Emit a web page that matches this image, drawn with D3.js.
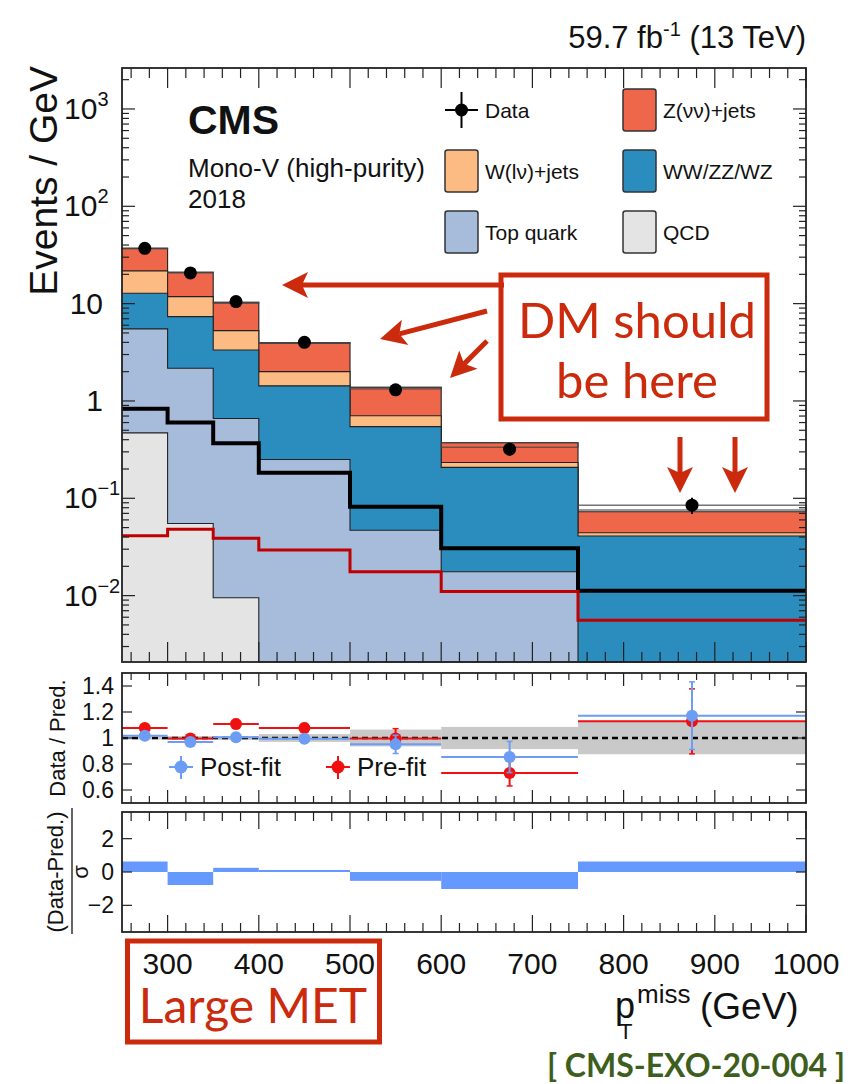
<!DOCTYPE html>
<html>
<head>
<meta charset="utf-8">
<script src="https://d3js.org/d3.v7.min.js"></script>
<style>
  body { margin: 0; background: #fff; }
  svg { display: block; }
  text { font-family: "Liberation Sans", Arial, Helvetica, sans-serif; fill: #111; }
  .gill { font-family: Lato, "Open Sans", sans-serif; }
</style>
</head>
<body>
<svg width=861 height=1084></svg>
<script>

// ---- data ----
var edges = [250, 300, 350, 400, 500, 600, 750, 1000];

// per-process yields (Events / GeV), stacked bottom -> top
var qcd   = [0.47, 0.055, 0.0095, 0, 0, 0, 0];
var topq  = [5.03, 2.115, 0.65, 0.25, 0.047, 0.0176, 0];
var vv    = [7.3, 5.18, 2.68, 1.18, 0.498, 0.19, 0.041];
var wjets = [8.9, 4.45, 1.94, 0.57, 0.161, 0.026, 0.0033];
var zjets = [15.4, 9.2, 5.02, 1.97, 0.674, 0.139, 0.0284];

var dataY   = [37, 20.7, 10.5, 4.0, 1.3, 0.32, 0.085];
var dataErr = [0.9, 0.65, 0.46, 0.2, 0.11, 0.046, 0.016];

// total uncertainty band outline
var bandHi = [37.1, 21.0, 10.3, 3.97, 1.38, 0.373, 0.085];
var bandLo = [36.6, 20.7, 10.1, 3.90, 1.33, 0.335, 0.0758];

// signal lines
var sigBlack = [0.83, 0.60, 0.367, 0.183, 0.082, 0.0306, 0.0112];
var sigRed   = [0.0413, 0.048, 0.0388, 0.0294, 0.0176, 0.011, 0.0056];

// ratio panel
var ratioPost    = [1.018, 0.969, 1.005, 0.995, 0.951, 0.854, 1.172];
var ratioPostErr = [0.025, 0.025, 0.03, 0.03, 0.07, 0.12, 0.26];
var ratioPre     = [1.077, 0.997, 1.108, 1.077, 0.997, 0.731, 1.128];
var ratioPreErr  = [0.027, 0.025, 0.035, 0.035, 0.075, 0.1, 0.25];
var ratioBand    = [0.012, 0.015, 0.015, 0.03, 0.065, 0.085, 0.125];

// pull panel
var pulls = [0.63, -0.78, 0.25, 0.12, -0.53, -1.02, 0.63];

var xTicks = [300, 400, 500, 600, 700, 800, 900, 1000];
var yMainTicks = [
  {v: 1000, base: '10', exp: '3'}, {v: 100, base: '10', exp: '2'},
  {v: 10, base: '10', exp: ''}, {v: 1, base: '1', exp: ''},
  {v: 0.1, base: '10', exp: '\u22121'}, {v: 0.01, base: '10', exp: '\u22122'}];
var yRatioTicks = [0.6, 0.8, 1, 1.2, 1.4];
var yPullTicks = [-2, 0, 2];

var processes = [
  {key: 'qcd', label: 'QCD', color: '#e4e4e4'},
  {key: 'topq', label: 'Top quark', color: '#a7bcdb'},
  {key: 'vv', label: 'WW/ZZ/WZ', color: '#2b8cbe'},
  {key: 'wjets', label: 'W(l\u03bd)+jets', color: '#fdbb84'},
  {key: 'zjets', label: 'Z(\u03bd\u03bd)+jets', color: '#ef674b'}];
var values = {qcd: qcd, topq: topq, vv: vv, wjets: wjets, zjets: zjets};

var svg = d3.select('svg');

var L = 122, R = 806;
var mainTop = 68, mainBot = 662;
var ratTop = 673, ratBot = 803;
var pullTop = 812, pullBot = 932;

var x = d3.scaleLinear().domain([250, 1000]).range([L, R]);
var y = d3.scaleLog().domain([0.00208, 2636]).range([mainBot, mainTop]);
var yr = d3.scaleLinear().domain([0.5, 1.5]).range([ratBot, ratTop]);
var yp = d3.scaleLinear().domain([-3.6, 3.6]).range([pullBot, pullTop]);
function yv(v) { return y(Math.max(v, 0.00208)); }

var bins = d3.range(edges.length - 1).map(function(i) {
  var row = {i: i, lo: edges[i], hi: edges[i + 1], c: (edges[i] + edges[i + 1]) / 2};
  processes.forEach(function(p) { row[p.key] = values[p.key][i]; });
  return row;
});

function stepPts(arr) {
  var pts = arr.map(function(v, i) { return [edges[i], v]; });
  pts.push([edges[edges.length - 1], arr[arr.length - 1]]);
  return pts;
}

// ---- main panel ----
var stack = d3.stack().keys(processes.map(function(p) { return p.key; }))(bins);

var area = d3.area().curve(d3.curveStepAfter)
  .x(function(d) { return x(d[0]); })
  .y0(mainBot)
  .y1(function(d) { return yv(d[1]); });
var line = d3.line().curve(d3.curveStepAfter)
  .x(function(d) { return x(d[0]); })
  .y(function(d) { return yv(d[1]); });

var gMain = svg.append('g');
// draw cumulative histograms from the total down, ROOT style
stack.slice().reverse().forEach(function(s) {
  var p = processes[s.index];
  var cum = s.map(function(d) { return d[1]; });
  gMain.append('path').attr('d', area(stepPts(cum))).attr('fill', p.color);
  gMain.append('path').attr('d', line(stepPts(cum)))
    .attr('fill', 'none').attr('stroke', '#222').attr('stroke-width', 1.1);
});

gMain.selectAll('rect.band').data(bins).enter().append('rect')
  .attr('x', function(d) { return x(d.lo); })
  .attr('width', function(d) { return x(d.hi) - x(d.lo); })
  .attr('y', function(d) { return yv(bandHi[d.i]); })
  .attr('height', function(d) { return yv(bandLo[d.i]) - yv(bandHi[d.i]); })
  .attr('fill', 'none').attr('stroke', '#444').attr('stroke-width', 1.1);

gMain.append('path').attr('d', line(stepPts(sigBlack)))
  .attr('fill', 'none').attr('stroke', '#000').attr('stroke-width', 4);
gMain.append('path').attr('d', line(stepPts(sigRed)))
  .attr('fill', 'none').attr('stroke', '#c00000').attr('stroke-width', 3);

gMain.selectAll('line.derr').data(bins).enter().append('line')
  .attr('x1', function(d) { return x(d.c); }).attr('x2', function(d) { return x(d.c); })
  .attr('y1', function(d) { return yv(dataY[d.i] + dataErr[d.i]); })
  .attr('y2', function(d) { return yv(dataY[d.i] - dataErr[d.i]); })
  .attr('stroke', '#000').attr('stroke-width', 2);
gMain.selectAll('circle.data').data(bins).enter().append('circle')
  .attr('cx', function(d) { return x(d.c); })
  .attr('cy', function(d) { return yv(dataY[d.i]); })
  .attr('r', 6.5).attr('fill', '#000');

// ---- ratio panel ----
var gRat = svg.append('g');
gRat.selectAll('rect.rband').data(bins).enter().append('rect')
  .attr('x', function(d) { return x(d.lo); })
  .attr('width', function(d) { return x(d.hi) - x(d.lo); })
  .attr('y', function(d) { return yr(1 + ratioBand[d.i]); })
  .attr('height', function(d) { return yr(1 - ratioBand[d.i]) - yr(1 + ratioBand[d.i]); })
  .attr('fill', '#c9c9c9');
gRat.append('line').attr('x1', L).attr('x2', R).attr('y1', yr(1)).attr('y2', yr(1))
  .attr('stroke', '#000').attr('stroke-width', 2.5).attr('stroke-dasharray', '6,4');

function ratioSeries(vals, errs, color) {
  var g = gRat.append('g');
  g.selectAll('line.h').data(bins).enter().append('line')
    .attr('x1', function(d) { return x(d.lo); }).attr('x2', function(d) { return x(d.hi); })
    .attr('y1', function(d) { return yr(vals[d.i]); }).attr('y2', function(d) { return yr(vals[d.i]); })
    .attr('stroke', color).attr('stroke-width', 2);
  g.selectAll('line.v').data(bins).enter().append('line')
    .attr('x1', function(d) { return x(d.c); }).attr('x2', function(d) { return x(d.c); })
    .attr('y1', function(d) { return yr(vals[d.i] + errs[d.i]); })
    .attr('y2', function(d) { return yr(vals[d.i] - errs[d.i]); })
    .attr('stroke', color).attr('stroke-width', 2);
  [1, -1].forEach(function(sgn) {
    g.selectAll('line.cap' + sgn).data(bins).enter().append('line')
      .attr('x1', function(d) { return x(d.c) - 3; }).attr('x2', function(d) { return x(d.c) + 3; })
      .attr('y1', function(d) { return yr(vals[d.i] + sgn * errs[d.i]); })
      .attr('y2', function(d) { return yr(vals[d.i] + sgn * errs[d.i]); })
      .attr('stroke', color).attr('stroke-width', 1.5);
  });
  g.selectAll('circle').data(bins).enter().append('circle')
    .attr('cx', function(d) { return x(d.c); })
    .attr('cy', function(d) { return yr(vals[d.i]); })
    .attr('r', 6).attr('fill', color);
}
ratioSeries(ratioPre, ratioPreErr, '#f01010');
ratioSeries(ratioPost, ratioPostErr, '#6d9cf4');

// ratio legend
[{x: 181, label: 'Post-fit', color: '#6d9cf4'}, {x: 338, label: 'Pre-fit', color: '#f01010'}].forEach(function(l) {
  gRat.append('line').attr('x1', l.x).attr('x2', l.x).attr('y1', 756).attr('y2', 779)
    .attr('stroke', l.color).attr('stroke-width', 2);
  gRat.append('line').attr('x1', l.x - 12).attr('x2', l.x + 12).attr('y1', 767).attr('y2', 767)
    .attr('stroke', l.color).attr('stroke-width', 2);
  gRat.append('circle').attr('cx', l.x).attr('cy', 767).attr('r', 6.5).attr('fill', l.color);
  gRat.append('text').attr('x', l.x + 19).attr('y', 776).attr('font-size', 26).text(l.label);
});

// ---- pull panel ----
var gPull = svg.append('g');
gPull.selectAll('rect').data(bins).enter().append('rect')
  .attr('x', function(d) { return x(d.lo); })
  .attr('width', function(d) { return x(d.hi) - x(d.lo); })
  .attr('y', function(d) { return yp(Math.max(0, pulls[d.i])); })
  .attr('height', function(d) { return Math.abs(yp(pulls[d.i]) - yp(0)); })
  .attr('fill', '#6699ff');

// ---- frames and ticks ----
function frame(t, b, major, minor) {
  var g = svg.append('g').attr('stroke', '#222');
  var minors = d3.range(260, 1000, 20).filter(function(v) { return v % 100 !== 0; });
  xTicks.concat(minors).forEach(function(v) {
    var len = (v % 100 === 0) ? major : minor;
    g.append('line').attr('x1', x(v)).attr('x2', x(v)).attr('y1', b).attr('y2', b - len).attr('stroke-width', 1.2);
    g.append('line').attr('x1', x(v)).attr('x2', x(v)).attr('y1', t).attr('y2', t + len).attr('stroke-width', 1.2);
  });
  return g;
}
function yTick(g, py, len) {
  g.append('line').attr('x1', L).attr('x2', L + len).attr('y1', py).attr('y2', py).attr('stroke-width', 1.2);
  g.append('line').attr('x1', R).attr('x2', R - len).attr('y1', py).attr('y2', py).attr('stroke-width', 1.2);
}

var fMain = frame(mainTop, mainBot, 20, 10);
d3.range(-3, 4).forEach(function(d) {
  d3.range(1, 10).forEach(function(m) {
    var v = m * Math.pow(10, d);
    if (v < y.domain()[0] || v > y.domain()[1]) return;
    yTick(fMain, y(v), m === 1 ? 13 : 7);
  });
});
var fRat = frame(ratTop, ratBot, 13, 7);
yRatioTicks.forEach(function(v) { yTick(fRat, yr(v), 10); });
var fPull = frame(pullTop, pullBot, 17, 9);
yPullTicks.forEach(function(v) { yTick(fPull, yp(v), 10); });

[[mainTop, mainBot], [ratTop, ratBot], [pullTop, pullBot]].forEach(function(p) {
  svg.append('rect').attr('x', L).attr('y', p[0]).attr('width', R - L).attr('height', p[1] - p[0])
    .attr('fill', 'none').attr('stroke', '#222').attr('stroke-width', 1.8);
});

// ---- axis labels ----
svg.selectAll('text.xl').data(xTicks).enter().append('text')
  .attr('x', function(d) { return x(d); }).attr('y', 974)
  .attr('text-anchor', 'middle').attr('font-size', 30).text(function(d) { return d; });

yMainTicks.forEach(function(t) {
  var tx = svg.append('text').attr('y', y(t.v) + 10).attr('font-size', 30);
  if (t.exp) {
    tx.attr('x', 64);
    tx.append('tspan').text(t.base);
    tx.append('tspan').attr('dy', -13).attr('font-size', 20).text(t.exp);
  } else {
    tx.attr('x', 103).attr('text-anchor', 'end').text(t.base);
  }
});

yRatioTicks.forEach(function(v) {
  svg.append('text').attr('x', 114).attr('y', yr(v) + 8).attr('text-anchor', 'end')
    .attr('font-size', 23).text(v);
});
yPullTicks.forEach(function(v) {
  svg.append('text').attr('x', 114).attr('y', yp(v) + 8).attr('text-anchor', 'end')
    .attr('font-size', 23).text(v < 0 ? '\u2212' + Math.abs(v) : v);
});

svg.append('text').attr('transform', 'translate(57,66) rotate(-90)')
  .attr('text-anchor', 'end').attr('font-size', 39).text('Events / GeV');
svg.append('text').attr('transform', 'translate(65,' + ((ratTop + ratBot) / 2) + ') rotate(-90)')
  .attr('text-anchor', 'middle').attr('font-size', 22).text('Data / Pred.');
svg.append('text').attr('transform', 'translate(63,' + ((pullTop + pullBot) / 2) + ') rotate(-90)')
  .attr('text-anchor', 'middle').attr('font-size', 22).text('(Data-Pred.)');
svg.append('line').attr('x1', 72).attr('x2', 72).attr('y1', pullTop - 4).attr('y2', pullBot + 2)
  .attr('stroke', '#111').attr('stroke-width', 1.3);
svg.append('text').attr('transform', 'translate(88,' + ((pullTop + pullBot) / 2) + ') rotate(-90)')
  .attr('text-anchor', 'middle').attr('font-size', 22).text('\u03c3');

// x title: p_T^miss (GeV)
svg.append('text').attr('x', 615).attr('y', 1018).attr('font-size', 36).text('p');
svg.append('text').attr('x', 619).attr('y', 1039).attr('font-size', 22).text('T');
svg.append('text').attr('x', 637).attr('y', 1003).attr('font-size', 26).text('miss');
svg.append('text').attr('x', 700).attr('y', 1019).attr('font-size', 37).text('(GeV)');

var lumi = svg.append('text').attr('x', 806).attr('y', 48).attr('text-anchor', 'end').attr('font-size', 31);
lumi.append('tspan').text('59.7 fb');
lumi.append('tspan').attr('dy', -12).attr('font-size', 20).text('-1');
lumi.append('tspan').attr('dy', 12).text(' (13 TeV)');

svg.append('text').attr('x', 188).attr('y', 134).attr('font-size', 41).attr('font-weight', 'bold').text('CMS');
svg.append('text').attr('x', 188).attr('y', 177).attr('font-size', 26).text('Mono-V (high-purity)');
svg.append('text').attr('x', 188).attr('y', 208).attr('font-size', 26).text('2018');

// ---- legend ----
var legend = [
  {type: 'data', x: 445, row: 0, label: 'Data'},
  {type: 'box', x: 623, row: 0, key: 'zjets'},
  {type: 'box', x: 445, row: 1, key: 'wjets'},
  {type: 'box', x: 623, row: 1, key: 'vv'},
  {type: 'box', x: 445, row: 2, key: 'topq'},
  {type: 'box', x: 623, row: 2, key: 'qcd'}];
var rowY = [89, 150, 211];
legend.forEach(function(l) {
  var yy = rowY[l.row];
  if (l.type === 'data') {
    svg.append('line').attr('x1', l.x).attr('x2', l.x + 33).attr('y1', yy + 21).attr('y2', yy + 21)
      .attr('stroke', '#000').attr('stroke-width', 2);
    svg.append('line').attr('x1', l.x + 16.5).attr('x2', l.x + 16.5).attr('y1', yy + 3).attr('y2', yy + 39)
      .attr('stroke', '#000').attr('stroke-width', 2);
    svg.append('circle').attr('cx', l.x + 16.5).attr('cy', yy + 21).attr('r', 6.5).attr('fill', '#000');
    svg.append('text').attr('x', l.x + 40).attr('y', yy + 29).attr('font-size', 21).text(l.label);
  } else {
    var p = processes.filter(function(q) { return q.key === l.key; })[0];
    svg.append('rect').attr('x', l.x).attr('y', yy).attr('width', 33).attr('height', 42).attr('rx', 2.5)
      .attr('fill', p.color).attr('stroke', '#333').attr('stroke-width', 1.5);
    svg.append('text').attr('x', l.x + 40).attr('y', yy + 29).attr('font-size', 21).text(p.label);
  }
});

// ---- annotations ----
var red = '#cc2a0c';
function arrow(x1, y1, x2, y2) {
  var a = Math.atan2(y2 - y1, x2 - x1);
  var hl = 26, hw = 13, notch = 20;
  var bx = x2 - hl * Math.cos(a), by = y2 - hl * Math.sin(a);
  var nx = x2 - notch * Math.cos(a), ny = y2 - notch * Math.sin(a);
  svg.append('line').attr('x1', x1).attr('y1', y1).attr('x2', nx).attr('y2', ny)
    .attr('stroke', red).attr('stroke-width', 5);
  var pts = [[x2, y2],
    [bx + hw * Math.sin(a), by - hw * Math.cos(a)],
    [nx, ny],
    [bx - hw * Math.sin(a), by + hw * Math.cos(a)]];
  svg.append('polygon').attr('points', pts.map(function(p) { return p.join(','); }).join(' '))
    .attr('fill', red);
}
arrow(504, 285, 282, 285);
arrow(487, 311, 380, 339);
arrow(487, 341, 450, 378);
arrow(680, 437, 680, 493);
arrow(735, 437, 735, 493);

svg.append('rect').attr('x', 501).attr('y', 275).attr('width', 266).attr('height', 144)
  .attr('fill', 'none').attr('stroke', red).attr('stroke-width', 5);
svg.append('text').attr('class', 'gill').attr('x', 637).attr('y', 338).attr('text-anchor', 'middle')
  .attr('font-size', 49).style('fill', red).text('DM should');
svg.append('text').attr('class', 'gill').attr('x', 637).attr('y', 398).attr('text-anchor', 'middle')
  .attr('font-size', 49).style('fill', red).text('be here');

svg.append('rect').attr('x', 127.5).attr('y', 941).attr('width', 252).attr('height', 101)
  .attr('fill', 'none').attr('stroke', red).attr('stroke-width', 5);
svg.append('text').attr('class', 'gill').attr('x', 253).attr('y', 1023).attr('text-anchor', 'middle')
  .attr('font-size', 48).style('fill', red).text('Large MET');

svg.append('text').attr('class', 'gill').attr('x', 845).attr('y', 1077).attr('text-anchor', 'end')
  .attr('font-size', 32).attr('font-weight', 'bold').style('fill', '#3d5e1c').text('[ CMS-EXO-20-004 ]');

</script>
</body>
</html>
